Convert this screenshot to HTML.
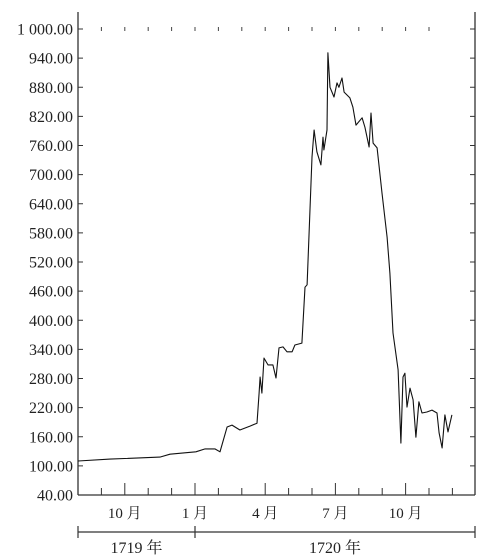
<!DOCTYPE html>
<html><head><meta charset="utf-8"><style>
html,body{margin:0;padding:0;background:#fff;}
svg{display:block;}
text{font-family:"Liberation Serif","Noto Serif CJK SC",serif;fill:#222;}
</style></head><body>
<svg id="chart" width="491" height="560" viewBox="0 0 491 560" xmlns="http://www.w3.org/2000/svg"></svg>
<script>
const months = [0,1.37,3.5,3.93,4.57,5.04,5.43,5.85,6.07,6.37,6.58,6.92,7.35,7.65,7.74,7.78,7.86,7.95,8.12,8.33,8.46,8.59,8.76,8.93,9.15,9.27,9.57,9.7,9.79,10.0,10.09,10.21,10.38,10.47,10.51,10.64,10.68,10.77,10.94,11.07,11.15,11.28,11.37,11.62,11.75,11.88,12.14,12.26,12.44,12.52,12.61,12.78,12.99,13.21,13.33,13.46,13.68,13.8,13.89,13.97,14.06,14.19,14.32,14.44,14.57,14.7,14.91,15.13,15.34,15.43,15.56,15.68,15.81,15.98];
const prices = [110,114,118,124,127,129,135,135,129,180,184,174,182,188,250,283,250,322,308,308,281,343,345,335,335,349,353,468,473,736,792,747,720,777,751,792,951,880,860,889,880,899,870,858,839,802,817,798,757,827,765,755,662,571,497,374,298,147,283,291,221,260,236,159,232,209,211,215,209,168,137,205,170,205];
const yTicks = [40,100,160,220,280,340,400,460,520,580,640,700,760,820,880,940,1000];
const yTickLabels = ["40.00","100.00","160.00","220.00","280.00","340.00","400.00","460.00","520.00","580.00","640.00","700.00","760.00","820.00","880.00","940.00","1 000.00"];
const monthLabels = [{m:2,t:"10 月"},{m:5,t:"1 月"},{m:8,t:"4 月"},{m:11,t:"7 月"},{m:14,t:"10 月"}];
const years = [{a:0,b:5,t:"1719 年"},{a:5,b:17,t:"1720 年"}];

const X0=78, X1=475, Y0=495, Y1=29, MW=23.4;
const sx = m => X0 + m*MW;
const sy = v => Y0 - (v-40)*(Y0-Y1)/960;
const svg = document.getElementById('chart');
const NS = "http://www.w3.org/2000/svg";
function mk(tag, attrs, parent){const e=document.createElementNS(NS,tag);for(const k in attrs)e.setAttribute(k,attrs[k]);(parent||svg).appendChild(e);return e;}

let e;
e = mk('line',{x1:X0,y1:12,x2:X0,y2:Y0,stroke:'#333','stroke-width':1.3});


e = mk('line',{x1:X1,y1:12,x2:X1,y2:Y0,stroke:'#333','stroke-width':1.3});


e = mk('line',{x1:X0,y1:Y0,x2:X1,y2:Y0,stroke:'#333','stroke-width':1.3});



yTicks.forEach((v,i)=>{
  const y = sy(v);
  let t = mk('line',{x1:X0,y1:y,x2:X0+5,y2:y,stroke:'#333','stroke-width':1});
  
  
  t = mk('line',{x1:X1-5,y1:y,x2:X1,y2:y,stroke:'#333','stroke-width':1});
  
  
  const l = mk('text',{x:73,y:y+5.5,'text-anchor':'end','font-size':16});
  l.textContent = yTickLabels[i];
  
  
});

for(let m=1;m<=16;m++){
  const x = sx(m);
  const major = (m%3===2);
  let t = mk('line',{x1:x,y1:Y0,x2:x,y2:Y0-(major?12:7),stroke:'#333','stroke-width':1});
  
  
  if(m<=15){
    t = mk('line',{x1:x,y1:27,x2:x,y2:31,stroke:'#444','stroke-width':1});
    
    
  }
}
monthLabels.forEach(o=>{
  const l = mk('text',{x:sx(o.m),y:518,'text-anchor':'middle','font-size':15});
  l.textContent = o.t;
  
  
});

e = mk('line',{x1:X0,y1:532,x2:X1,y2:532,stroke:'#333','stroke-width':1.2});


[X0, sx(5), X1].forEach(x=>{
  const t = mk('line',{x1:x,y1:526,x2:x,y2:538,stroke:'#333','stroke-width':1.2});
  
  
});
years.forEach(o=>{
  const x = o.b===17 ? (sx(o.a)+X1)/2 : (sx(o.a)+sx(o.b))/2;
  const l = mk('text',{x:x,y:553,'text-anchor':'middle','font-size':16});
  l.textContent = o.t;
  
  
});

const d = months.map((m,i)=>(i?'L':'M')+sx(m).toFixed(1)+' '+sy(prices[i]).toFixed(1)).join(' ');
const p = mk('path',{d:d,fill:'none',stroke:'#111','stroke-width':1.1,'stroke-linejoin':'round'});


</script>
</body></html>
